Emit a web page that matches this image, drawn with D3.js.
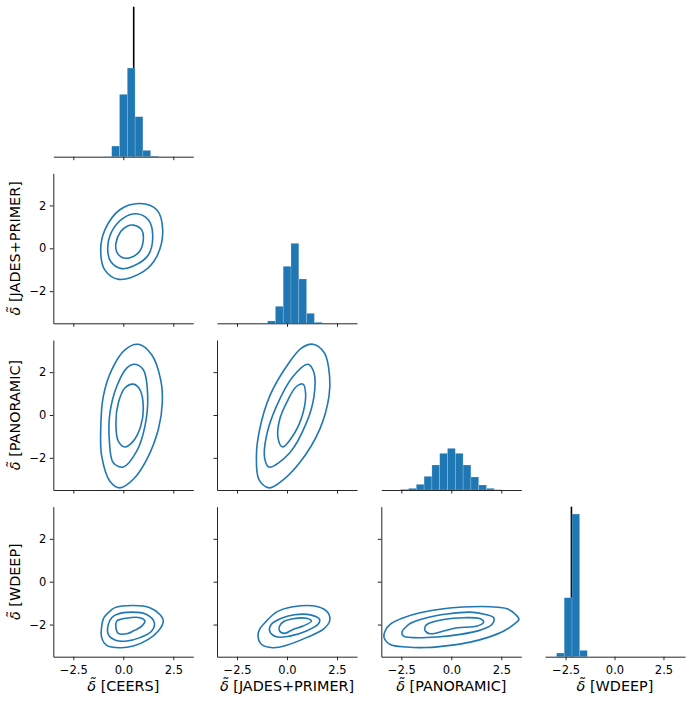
<!DOCTYPE html>
<html>
<head>
<meta charset="utf-8">
<script src="https://cdn.jsdelivr.net/npm/d3@7"></script>
<style>
  html, body { margin: 0; padding: 0; background: #fff; }
  svg { display: block; font-family: "DejaVu Sans", sans-serif; }
</style>
</head>
<body>
<script>
// ---------------- DATA ----------------
const variables = ["CEERS", "JADES+PRIMER", "PANORAMIC", "WDEEP"];
const xTickValues = [-2.5, 0, 2.5];
const yTickValues = [-2, 0, 2];

// diagonal histograms: bin edges and counts
const ceersEdges = [-0.97, -0.58, -0.19, 0.20, 0.59, 0.98, 1.37, 1.76];
const ceersCounts = [1, 32, 187, 266, 120, 19, 2];
const jadesEdges = [-0.97, -0.58, -0.19, 0.20, 0.59, 0.98, 1.37, 1.76];
const jadesCounts = [7, 51, 171, 240, 133, 30, 3];
const panoramicEdges = [-2.53, -2.14, -1.75, -1.36, -0.97, -0.58, -0.19, 0.20, 0.59, 0.98, 1.37, 1.76, 2.15, 2.54];
const panoramicCounts = [2, 5, 17, 41, 75, 110, 125, 110, 75, 39, 15, 5, 1];
const wdeepEdges = [-2.96, -2.57, -2.17, -1.78, -1.39];
const wdeepCounts = [11, 177, 428, 19];

// reference (true) values drawn as black vertical lines
const truthVariables = ["CEERS", "WDEEP"];
const truthValues = [0.52, -2.2];

// KDE contour lines (outer, middle, inner), [x, y]
const ceersVsJades = [
  [[0.83,2.09],[1.67,1.80],[1.97,0.86],[1.67,-0.39],[1.0,-1.09],[-0.22,-1.45],[-0.92,-1.02],[-1.13,-0.08],[-0.92,0.86],[-0.17,1.80]],
  [[0.67,1.61],[1.25,1.33],[1.47,0.63],[1.25,-0.31],[0.5,-0.83],[-0.08,-0.95],[-0.62,-0.63],[-0.78,-0.05],[-0.58,0.78],[0,1.41]],
  [[0.5,1.08],[0.92,0.86],[1.0,0.39],[0.8,-0.16],[0.33,-0.44],[-0.08,-0.42],[-0.33,-0.16],[-0.37,0.23],[-0.13,0.78],[0.17,1.02]]
];
const ceersVsPanoramic = [
  [[0.75,3.30],[1.42,2.81],[1.87,1.64],[1.95,0.56],[1.75,-0.68],[1.17,-2.08],[0.5,-3.0],[-0.17,-3.40],[-0.67,-3.09],[-1.08,-1.92],[-1.13,-0.68],[-1.0,0.87],[-0.58,2.11],[0.08,3.04]],
  [[0.58,2.37],[1.0,2.11],[1.22,0.87],[1.08,-0.53],[0.67,-1.69],[0,-2.43],[-0.5,-2.23],[-0.7,-1.15],[-0.67,0.09],[-0.33,1.33],[0.17,2.19]],
  [[0.5,1.44],[0.83,1.18],[1.0,0.33],[0.87,-0.53],[0.5,-1.22],[0.08,-1.49],[-0.25,-1.22],[-0.37,-0.37],[-0.25,0.56],[0.08,1.26]]
];
const jadesVsPanoramic = [
  [[1.3,3.30],[1.88,2.88],[2.13,1.80],[2.1,0.87],[1.63,-0.68],[0.63,-2.23],[-0.37,-3.16],[-0.9,-3.40],[-1.4,-3.02],[-1.53,-1.92],[-1.37,-0.68],[-0.87,0.87],[-0.03,2.26],[0.72,3.12]],
  [[1.05,2.37],[1.35,1.97],[1.35,0.87],[0.97,-0.37],[0.13,-1.77],[-0.9,-2.43],[-1.12,-2.0],[-1.03,-0.99],[-0.53,0.40],[0.3,1.80]],
  [[0.8,1.44],[0.93,1.02],[0.8,0.09],[0.38,-0.84],[-0.23,-1.49],[-0.45,-1.07],[-0.37,-0.22],[0.05,0.71],[0.47,1.33]]
];
const ceersVsWdeep = [
  [[-0.42,-1.21],[0.5,-1.11],[1.33,-1.21],[1.83,-1.53],[2.0,-1.84],[1.75,-2.30],[1.25,-2.69],[0.5,-3.0],[-0.17,-3.08],[-0.83,-2.97],[-1.08,-2.61],[-1.08,-2.07],[-0.97,-1.68],[-0.75,-1.45]],
  [[-0.33,-1.53],[0.42,-1.42],[1.17,-1.53],[1.55,-1.91],[1.42,-2.30],[0.83,-2.61],[0.17,-2.77],[-0.42,-2.72],[-0.75,-2.46],[-0.75,-1.99],[-0.58,-1.68]],
  [[-0.17,-1.76],[0.33,-1.68],[0.83,-1.68],[1.08,-1.84],[0.92,-2.07],[0.5,-2.30],[0.17,-2.43],[-0.25,-2.41],[-0.37,-2.15],[-0.33,-1.84]]
];
const jadesVsWdeep = [
  [[-0.53,-1.42],[0.3,-1.17],[1.55,-1.17],[2.05,-1.45],[2.13,-1.84],[1.8,-2.23],[0.97,-2.61],[-0.03,-2.97],[-0.7,-3.08],[-1.28,-2.92],[-1.45,-2.54],[-1.37,-2.22],[-1.03,-1.84]],
  [[-0.28,-1.71],[0.38,-1.54],[1.22,-1.56],[1.63,-1.76],[1.55,-1.99],[0.97,-2.30],[0.13,-2.54],[-0.53,-2.57],[-0.87,-2.30],[-0.78,-1.99]],
  [[-0.2,-1.88],[0.3,-1.73],[0.97,-1.71],[1.22,-1.84],[0.8,-2.07],[0.3,-2.23],[-0.12,-2.41],[-0.37,-2.30],[-0.37,-2.07]]
];
const panoramicVsWdeep = [
  [[-3.06,-1.99],[-2.39,-1.68],[-1.56,-1.45],[-0.38,-1.26],[0.95,-1.17],[1.96,-1.17],[2.79,-1.26],[3.21,-1.53],[3.38,-1.76],[3.13,-1.99],[2.63,-2.30],[1.79,-2.61],[0.95,-2.82],[-0.05,-2.97],[-1.22,-3.07],[-2.22,-3.05],[-3.06,-2.93],[-3.36,-2.61],[-3.31,-2.30]],
  [[-2.06,-1.95],[-1.22,-1.68],[-0.22,-1.51],[0.95,-1.42],[1.71,-1.53],[2.12,-1.68],[2.04,-1.99],[1.45,-2.26],[0.45,-2.46],[-0.72,-2.58],[-1.89,-2.61],[-2.39,-2.54],[-2.47,-2.35],[-2.31,-2.15]],
  [[-1.14,-1.95],[-0.38,-1.76],[0.62,-1.68],[1.45,-1.73],[1.62,-1.88],[1.29,-2.07],[0.28,-2.15],[-0.38,-2.30],[-1.05,-2.43],[-1.30,-2.30],[-1.30,-2.07]]
];

// ---------------- LAYOUT ----------------
const W = 692, H = 705;
const colLeft = [53.3, 217, 381.3, 545];
const rowTop = [6.7, 173.3, 340, 506.7];
const panelW = 140, panelH = 150;
const xDomains = [[-3.5, 3.5], [-3.5, 3.5], [-3.5, 3.5], [-3.55, 3.6]];
const yDomain = [-3.5, 3.5];
const histMax = 450;
const blue = "#1f77b4";
const axisColor = "#262626";
const tickFont = 11.5;
const labelFont = 14.4;

const histTable = [
  {edges: ceersEdges, counts: ceersCounts},
  {edges: jadesEdges, counts: jadesCounts},
  {edges: panoramicEdges, counts: panoramicCounts},
  {edges: wdeepEdges, counts: wdeepCounts}
];
const contourTable = {
  "1,0": ceersVsJades,
  "2,0": ceersVsPanoramic,
  "2,1": jadesVsPanoramic,
  "3,0": ceersVsWdeep,
  "3,1": jadesVsWdeep,
  "3,2": panoramicVsWdeep
};

const svg = d3.select("body").append("svg")
  .attr("width", W).attr("height", H)
  .attr("viewBox", `0 0 ${W} ${H}`);

const fmtX = d3.format(".1f");
const fmtY = d3.format("d");

function styleAxis(g) {
  g.attr("font-family", "DejaVu Sans, sans-serif").attr("font-size", tickFont);
  g.selectAll(".domain").attr("stroke", axisColor).attr("stroke-width", 1);
  g.selectAll(".tick line").attr("stroke", axisColor).attr("stroke-width", 1);
  g.selectAll(".tick text").attr("fill", "#000");
}

for (let i = 0; i < 4; i++) {
  for (let j = 0; j <= i; j++) {
    const g = svg.append("g").attr("transform", `translate(${colLeft[j]},${rowTop[i]})`);
    const x = d3.scaleLinear().domain(xDomains[j]).range([0, panelW]);
    const showXLabels = (i === 3);

    if (i === j) {
      const y = d3.scaleLinear().domain([0, histMax]).range([panelH, 0]);
      const h = histTable[i];
      const bins = h.counts.map((c, k) => ({x0: h.edges[k], x1: h.edges[k + 1], c}));
      // truth line
      const ti = truthVariables.indexOf(variables[i]);
      if (ti >= 0) {
        g.append("line")
          .attr("x1", x(truthValues[ti])).attr("x2", x(truthValues[ti]))
          .attr("y1", 0).attr("y2", panelH)
          .attr("stroke", "#000").attr("stroke-width", 1.6);
      }
      g.selectAll("rect.bar").data(bins).join("rect")
        .attr("class", "bar")
        .attr("x", d => x(d.x0))
        .attr("width", d => x(d.x1) - x(d.x0))
        .attr("y", d => y(d.c))
        .attr("height", d => panelH - y(d.c))
        .attr("fill", blue)
        .attr("stroke", "rgba(255,255,255,0.3)")
        .attr("stroke-width", 0.6);
    } else {
      const y = d3.scaleLinear().domain(yDomain).range([panelH, 0]);
      const line = d3.line()
        .x(d => x(d[0])).y(d => y(d[1]))
        .curve(d3.curveCatmullRomClosed.alpha(0.5));
      const levels = contourTable[`${i},${j}`];
      g.selectAll("path.contour").data(levels).join("path")
        .attr("class", "contour")
        .attr("d", d => line(d))
        .attr("fill", "none")
        .attr("stroke", blue)
        .attr("stroke-width", 1.6);
      const ya = d3.axisLeft(y).tickValues(yTickValues).tickSize(3.5).tickSizeOuter(0).tickPadding(3.4)
        .tickFormat(j === 0 ? fmtY : () => "");
      g.append("g").call(ya).call(styleAxis);
    }
    const xa = d3.axisBottom(x).tickValues(xTickValues).tickSize(3.5).tickSizeOuter(0).tickPadding(5.2)
      .tickFormat(showXLabels ? fmtX : () => "");
    g.append("g").attr("transform", `translate(0,${panelH})`).call(xa).call(styleAxis);
  }
}

function addLabel(sel, name) {
  sel.append("tspan").attr("font-style", "italic").text("δ\u0303");
  sel.append("tspan").text(" [" + name + "]");
}

// x labels
for (let j = 0; j < 4; j++) {
  const t = svg.append("text")
    .attr("x", colLeft[j] + panelW / 2)
    .attr("y", 690.5)
    .attr("text-anchor", "middle")
    .attr("font-size", labelFont)
    .attr("fill", "#000");
  addLabel(t, variables[j]);
}
// y labels
for (let i = 1; i < 4; i++) {
  const cy = rowTop[i] + panelH / 2;
  const t = svg.append("text")
    .attr("transform", `translate(19.5,${cy}) rotate(-90)`)
    .attr("text-anchor", "middle")
    .attr("font-size", labelFont)
    .attr("fill", "#000");
  addLabel(t, variables[i]);
}
</script>
</body>
</html>
